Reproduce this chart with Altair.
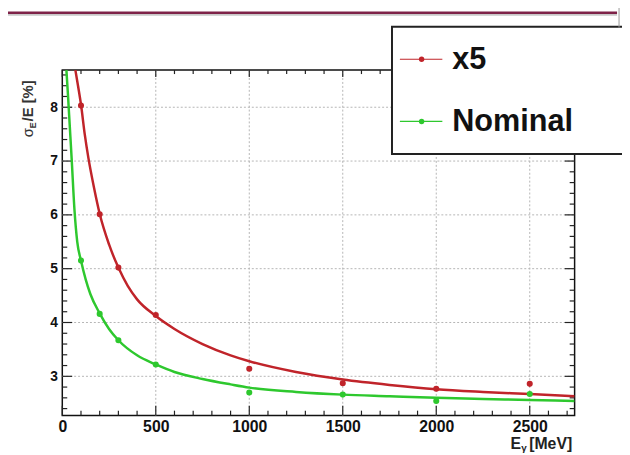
import altair as alt
import pandas as pd

# measured points
E_pts = [100, 200, 300, 500, 1000, 1500, 2000, 2500]
x5_vals = [8.03, 6.01, 5.02, 4.14, 3.14, 2.87, 2.77, 2.86]
nom_vals = [5.15, 4.16, 3.67, 3.22, 2.70, 2.66, 2.54, 2.67]

# fit curves
fit_x5_E = [70, 85, 100, 120, 140, 170, 200, 250, 300, 350, 400, 500, 600, 750, 900, 1000, 1250, 1500, 1750, 2000, 2250, 2500, 2740]
fit_x5_v = [8.69, 8.38, 8.05, 7.5, 7.05, 6.5, 6.02, 5.45, 5.02, 4.68, 4.43, 4.12, 3.88, 3.60, 3.39, 3.28, 3.08, 2.94, 2.84, 2.76, 2.71, 2.67, 2.63]
fit_nom_E = [22, 30, 40, 50, 65, 80, 100, 125, 150, 200, 250, 300, 400, 500, 600, 750, 900, 1000, 1250, 1500, 1750, 2000, 2250, 2500, 2740]
fit_nom_v = [8.69, 8.25, 7.65, 7.05, 6.1, 5.5, 5.15, 4.8, 4.53, 4.17, 3.88, 3.67, 3.39, 3.22, 3.08, 2.95, 2.85, 2.79, 2.71, 2.66, 2.63, 2.60, 2.58, 2.56, 2.54]

# axis ticks
x_major = [0, 500, 1000, 1500, 2000, 2500]
x_grid = [500, 1000, 1500, 2000, 2500]
x_minor = [100, 200, 300, 400, 600, 700, 800, 900, 1100, 1200, 1300, 1400,
           1600, 1700, 1800, 1900, 2100, 2200, 2300, 2400, 2600, 2700]
y_major = [3, 4, 5, 6, 7, 8]
y_minor = [2.4, 2.6, 2.8, 3.2, 3.4, 3.6, 3.8, 4.2, 4.4, 4.6, 4.8, 5.2, 5.4, 5.6, 5.8,
           6.2, 6.4, 6.6, 6.8, 7.2, 7.4, 7.6, 7.8, 8.2, 8.4, 8.6]

RED = "#c0242a"
GREEN = "#2ec82e"
FONT = "Liberation Sans"
W, H = 519, 350
XMIN, XMAX = 0, 2740
YMIN, YMAX = 2.27, 8.69

xs = alt.Scale(domain=[XMIN, XMAX], nice=False, zero=False)
ys = alt.Scale(domain=[YMIN, YMAX], nice=False, zero=False)

pts = pd.DataFrame({"E": E_pts * 2, "v": x5_vals + nom_vals,
                    "s": ["x5"] * len(E_pts) + ["Nominal"] * len(E_pts)})
fx5 = pd.DataFrame({"E": fit_x5_E, "v": fit_x5_v})
fnom = pd.DataFrame({"E": fit_nom_E, "v": fit_nom_v})
one = pd.DataFrame({"a": [0]})

X = lambda: alt.X("E:Q", scale=xs, axis=alt.Axis(values=x_major, title=None, format="d",
                                                  labelFontSize=16, labelPadding=3))
Y = lambda: alt.Y("v:Q", scale=ys, axis=alt.Axis(values=y_major, title=None, format="d",
                                                  labelFontSize=14, labelPadding=5))

# grid
gx = alt.Chart(pd.DataFrame({"E": x_grid})).mark_rule(color="#b5b5b5", strokeDash=[2, 2], strokeWidth=1).encode(
    x=X(), y=alt.value(0), y2=alt.value(H))
gy = alt.Chart(pd.DataFrame({"v": y_major})).mark_rule(color="#b5b5b5", strokeDash=[2, 2], strokeWidth=1).encode(
    y=Y(), x=alt.value(0), x2=alt.value(W))

# ticks
def yticks(vals, x1, x2):
    return alt.Chart(pd.DataFrame({"v": vals})).mark_rule(color="#222", strokeWidth=1.2).encode(
        y=Y(), x=alt.value(x1), x2=alt.value(x2))

def xticks(vals, y1, y2):
    return alt.Chart(pd.DataFrame({"E": vals})).mark_rule(color="#222", strokeWidth=1.2).encode(
        x=X(), y=alt.value(y1), y2=alt.value(y2))

ticks = [
    yticks(y_major, 0, 10), yticks(y_minor, 0, 5),
    yticks(y_major, W - 10, W), yticks(y_minor, W - 5, W),
    xticks(x_major, H - 10, H), xticks(x_minor, H - 5, H),
    xticks(x_major, 0, 7), xticks(x_minor, 0, 4),
]

# curves
c_x5 = alt.Chart(fx5).mark_line(color=RED, strokeWidth=2.5, clip=True, interpolate="monotone").encode(x=X(), y=Y())
c_nom = alt.Chart(fnom).mark_line(color=GREEN, strokeWidth=2.5, clip=True, interpolate="monotone").encode(x=X(), y=Y())

p = alt.Chart(pts).mark_circle(size=38, opacity=1).encode(
    x=X(), y=Y(),
    color=alt.Color("s:N", scale=alt.Scale(domain=["x5", "Nominal"], range=[RED, GREEN]), legend=None))

# legend box
box = alt.Chart(one).mark_rect(fill="white", stroke="#222", strokeWidth=2).encode(
    x=alt.value(334), x2=alt.value(620), y=alt.value(-44), y2=alt.value(85))
leg = []
for yy, col, lab in [(-11, RED, "x5"), (52, GREEN, "Nominal")]:
    leg.append(alt.Chart(one).mark_rule(color=col, strokeWidth=1.2).encode(
        x=alt.value(342), x2=alt.value(385), y=alt.value(yy)))
    leg.append(alt.Chart(one).mark_circle(color=col, size=30, opacity=1).encode(
        x=alt.value(364), y=alt.value(yy)))
    leg.append(alt.Chart(one).mark_text(text=lab, font=FONT, fontWeight="bold", fontSize=31,
                                        align="left", baseline="middle", color="#111").encode(
        x=alt.value(395), y=alt.value(yy + 1)))

# header line
hdr = [
    alt.Chart(one).mark_rule(color="#c8c8c8", strokeWidth=2).encode(x=alt.value(-55), x2=alt.value(562), y=alt.value(-56)),
    alt.Chart(one).mark_rule(color="#7e2248", strokeWidth=2.5).encode(x=alt.value(-55), x2=alt.value(562), y=alt.value(-58)),
    alt.Chart(one).mark_rule(color="#999", strokeWidth=1).encode(x=alt.value(564), y=alt.value(-68), y2=alt.value(-43)),
]

# axis titles
def txt(t, x, y, size, weight="bold", angle=0, color="#222"):
    return alt.Chart(one).mark_text(text=t, font=FONT, fontSize=size, fontWeight=weight, angle=angle,
                                    align="left", baseline="alphabetic", color=color).encode(
        x=alt.value(x), y=alt.value(y))

titles = [
    txt("σ", -30, 68, 15, "normal", angle=270, color="#333"),
    txt("E", -27, 59, 9, angle=270, color="#333"),
    txt("/E   [%]", -30, 52, 15, angle=270, color="#333"),
    txt("E", 454, 384, 16),
    txt("γ", 465, 386, 10),
    txt("[MeV]", 473, 384, 16),
]

chart = alt.layer(
    gx, gy, *ticks, c_x5, c_nom, p, box, *leg, *hdr, *titles
).properties(
    width=W, height=H,
    padding={"left": 55, "top": 60, "right": 48, "bottom": 37},
    autosize=alt.AutoSizeParams(type="none"),
    background="white",
).configure_view(stroke="#111", strokeWidth=1.5).configure_axis(
    ticks=False, domain=False, grid=False, labelFont=FONT, labelFontWeight="bold",
    labelColor="#111", labelFlush=False
)

chart.save("out.html", embed_options={"renderer": "svg", "actions": False})
